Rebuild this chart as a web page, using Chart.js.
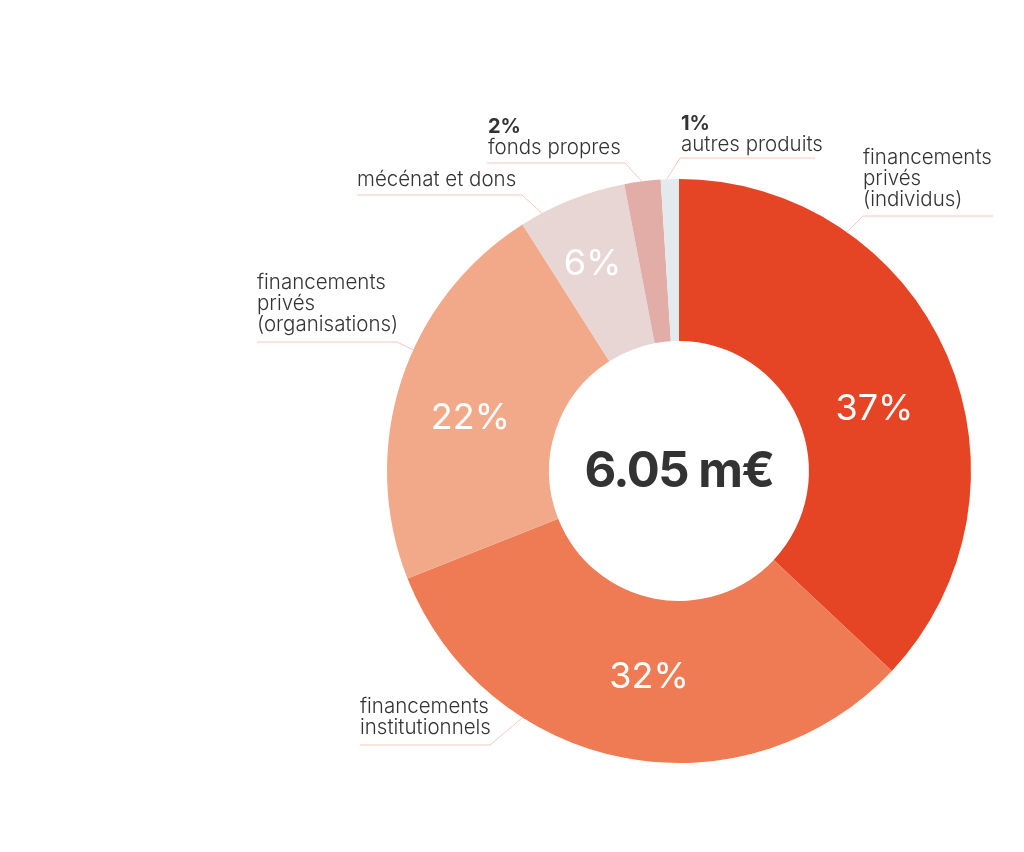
<!DOCTYPE html>
<html>
<head>
<meta charset="utf-8">
<script src="https://cdn.jsdelivr.net/npm/chart.js@4"></script>
<style>
  html, body { margin: 0; padding: 0; background: #fff; }
  #wrap { width: 1024px; height: 852px; position: relative; }
</style>
</head>
<body>
<div id="wrap"><canvas id="donut" width="1024" height="852"></canvas></div>
<script>
// data, clockwise from the top
const categories = [
    'financements privés (individus)',
    'financements institutionnels',
    'financements privés (organisations)',
    'mécénat et dons',
    'fonds propres',
    'autres produits'
];
const shares = [37, 32, 22, 6, 2, 1];
const sliceColors = ['#E64525', '#EE7B54', '#F2A98A', '#E8D6D4', '#E1ADA6', '#E3EAED'];
const totalLabel = '6.05 m€';

// outside label text lines (bold percent on top for the small slices)
const outsideLines = [
    ['financements', 'privés', '(individus)'],
    ['financements', 'institutionnels'],
    ['financements', 'privés', '(organisations)'],
    ['mécénat et dons'],
    ['fonds propres'],
    ['autres produits']
];
const outsideBold = [null, null, null, null, '2%', '1%'];
const insideShown = [true, true, true, true, false, false];

const FONT = 'Inter, "Liberation Sans", sans-serif';
const LEADER = '#F6C8BA';

// small hand nudges for the inside percent labels
const insideNudge = [[0, 23], [10, -3], [-6, 13], [-8, -9]];

// leader layout: angle on the rim (deg from top, clockwise), elbow, line end, text origin
const callouts = [
    { ang: 35.1,  elbow: [863, 216], end: [993, 216], tx: 863, ty: 158 },
    { ang: 212.4, elbow: [490, 745], end: [360, 745], tx: 360, ty: 707 },
    { ang: 294.5, elbow: [397, 342], end: [257, 342], tx: 257, ty: 283 },
    { ang: 332.0, elbow: [522, 195], end: [357, 195], tx: 357, ty: 180 },
    { ang: 352.7, elbow: [625, 163], end: [487, 163], tx: 488, ty: 148 },
    { ang: 357.6, elbow: [680, 158], end: [815, 158], tx: 681, ty: 145 }
];

const labelPlugin = {
    id: 'labelPlugin',
    afterDatasetsDraw(chart) {
        const c = chart.ctx;
        const meta = chart.getDatasetMeta(0);
        const arc0 = meta.data[0];
        const cx = arc0.x, cy = arc0.y;
        const outer = arc0.outerRadius, inner = arc0.innerRadius;

        // percent inside the slices
        c.save();
        c.fillStyle = '#fff';
        c.font = '400 36px ' + FONT;
        c.textAlign = 'center';
        c.textBaseline = 'middle';
        meta.data.forEach(function (arc, i) {
            if (!insideShown[i]) return;
            const mid = (arc.startAngle + arc.endAngle) / 2;
            const r = (inner + outer) / 2 + 2;
            const n = insideNudge[i] || [0, 0];
            c.fillText(shares[i] + '%', cx + Math.cos(mid) * r + n[0], cy + Math.sin(mid) * r + n[1]);
        });

        // total in the hole
        c.fillStyle = '#333';
        c.font = 'bold 49px ' + FONT;
        c.letterSpacing = '-1.5px';
        c.fillText(totalLabel, cx, cy + 1);
        c.letterSpacing = '0px';

        // leader lines and outside labels
        c.strokeStyle = LEADER;
        c.lineWidth = 1;
        callouts.forEach(function (co, i) {
            const a = (co.ang - 90) * Math.PI / 180;
            const px = cx + Math.cos(a) * outer;
            const py = cy + Math.sin(a) * outer;
            c.beginPath();
            c.moveTo(px, py);
            c.lineTo(co.elbow[0], co.elbow[1]);
            c.lineTo(co.end[0], co.end[1]);
            c.stroke();

            c.fillStyle = '#333';
            c.textAlign = 'left';
            c.textBaseline = 'middle';
            let y = co.ty;
            if (outsideBold[i]) {
                c.font = 'bold 20px ' + FONT;
                c.fillText(outsideBold[i], co.tx, y - 21);
            }
            c.font = '300 20.5px ' + FONT;
            outsideLines[i].forEach(function (line) {
                c.fillText(line, co.tx, y);
                y += 21;
            });
        });
        c.restore();
    }
};

new Chart(document.getElementById('donut').getContext('2d'), {
    type: 'doughnut',
    data: {
        labels: categories,
        datasets: [{
            data: shares,
            backgroundColor: sliceColors,
            borderWidth: 0
        }]
    },
    options: {
        responsive: false,
        animation: false,
        cutout: '44.5%',
        layout: { padding: { left: 387, right: 53, top: 179, bottom: 89 } },
        plugins: {
            legend: { display: false },
            tooltip: { enabled: false }
        }
    },
    plugins: [labelPlugin]
});
</script>
</body>
</html>
